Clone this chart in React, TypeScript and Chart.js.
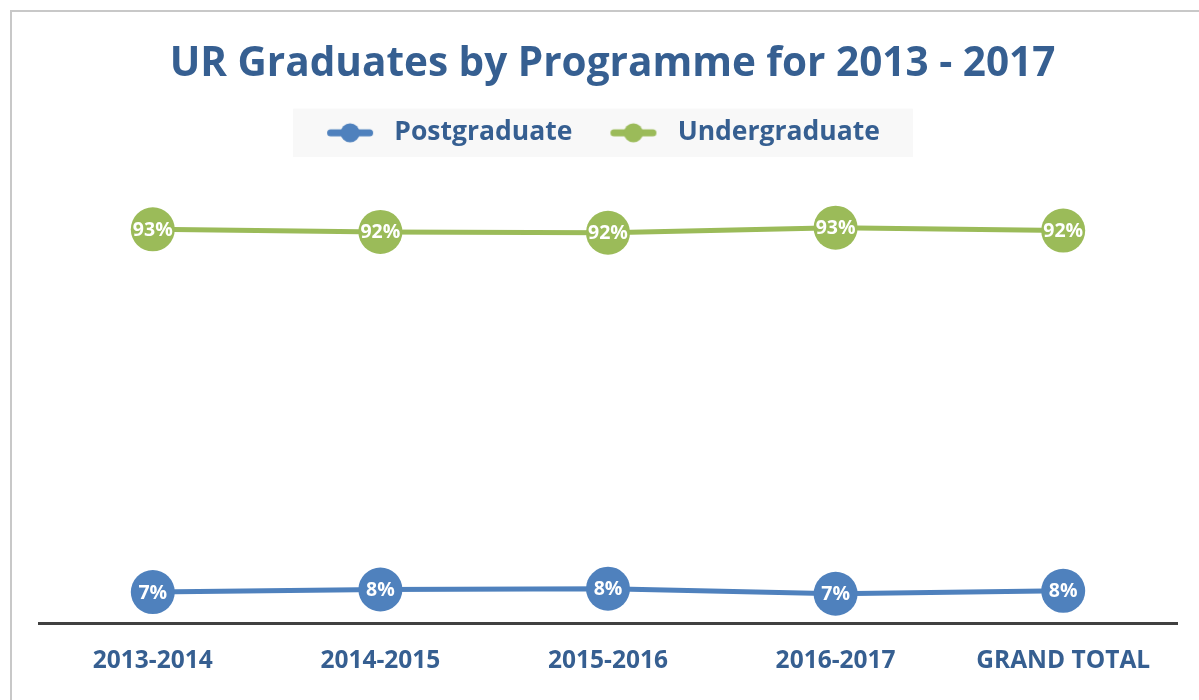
import React, { useEffect, useRef } from "react";
import { Chart, registerables } from "chart.js";

Chart.register(...registerables);

const categories = ["2013-2014", "2014-2015", "2015-2016", "2016-2017", "GRAND TOTAL"];
const postgraduate = [7.4, 8.0, 8.2, 7.0, 7.7];
const undergraduate = [92.6, 92.0, 91.8, 93.0, 92.3];
const seriesNames = ["Postgraduate", "Undergraduate"];
const titleText = "UR Graduates by Programme for 2013 - 2017";

const BLUE = "#4f81bd";
const GREEN = "#9bbb59";
const TEXT = "#365f91";
const FONT = "'Open Sans', 'DejaVu Sans', sans-serif";

const ICON_W = 62;
const ICON_LPAD = 8;
const LEGEND_FONT = 26.5;
const LEGEND_PAD = 30;
const LEGEND_SHIFT = -13;

function makeLegendIcon(color: string): HTMLCanvasElement {
  const c = document.createElement("canvas");
  c.width = ICON_W;
  c.height = 22;
  const ctx = c.getContext("2d")!;
  ctx.strokeStyle = color;
  ctx.lineWidth = 7;
  ctx.lineCap = "round";
  ctx.beginPath();
  ctx.moveTo(ICON_LPAD + 3.5, 11);
  ctx.lineTo(ICON_LPAD + 42.5, 11);
  ctx.stroke();
  ctx.fillStyle = color;
  ctx.beginPath();
  ctx.arc(ICON_LPAD + 23, 11, 9.5, 0, Math.PI * 2);
  ctx.fill();
  return c;
}

const legendShift = {
  id: "legendShift",
  afterLayout(chart: any) {
    const lg = chart.legend;
    if (!lg) return;
    lg.left += LEGEND_SHIFT;
    lg.right += LEGEND_SHIFT;
    if (typeof lg.adjustHitBoxes === "function") lg.adjustHitBoxes();
  },
};

const legendBg = {
  id: "legendBg",
  beforeDraw(chart: any) {
    const lg = chart.legend;
    if (!lg || !lg.lineWidths) return;
    const rowW = lg.lineWidths[0];
    const x0 = (lg.left + LEGEND_PAD + lg.right - rowW) / 2;
    const left = x0 + ICON_LPAD - 34;
    const right = x0 + rowW - LEGEND_PAD + 33;
    const top = lg.top + LEGEND_PAD - 11;
    const ctx = chart.ctx;
    ctx.save();
    ctx.fillStyle = "#f8f8f8";
    ctx.fillRect(left, top, right - left, LEGEND_FONT + 22);
    ctx.restore();
  },
};

const pointLabels = {
  id: "pointLabels",
  afterDatasetsDraw(chart: any) {
    const ctx = chart.ctx;
    ctx.save();
    ctx.fillStyle = "#ffffff";
    ctx.font = `bold 19.5px ${FONT}`;
    ctx.textAlign = "center";
    ctx.textBaseline = "middle";
    chart.data.datasets.forEach((ds: any, i: number) => {
      const meta = chart.getDatasetMeta(i);
      meta.data.forEach((pt: any, j: number) => {
        ctx.fillText(Math.round(ds.data[j]) + "%", pt.x, pt.y + 1);
      });
    });
    ctx.restore();
  },
};

export default function App() {
  const ref = useRef<HTMLCanvasElement | null>(null);

  useEffect(() => {
    if (!ref.current) return;
    const chart = new Chart(ref.current, {
      type: "line",
      data: {
        labels: categories,
        datasets: [
          {
            label: seriesNames[0],
            data: postgraduate,
            borderColor: BLUE,
            backgroundColor: BLUE,
            borderWidth: 5,
            pointRadius: 22,
            pointHoverRadius: 22,
            pointBorderWidth: 0,
          },
          {
            label: seriesNames[1],
            data: undergraduate,
            borderColor: GREEN,
            backgroundColor: GREEN,
            borderWidth: 5,
            pointRadius: 22,
            pointHoverRadius: 22,
            pointBorderWidth: 0,
          },
        ],
      },
      options: {
        animation: false,
        responsive: true,
        maintainAspectRatio: false,
        layout: { padding: { left: 27, right: 13, top: 0, bottom: 9 } },
        elements: { point: { pointStyle: "circle" } },
        plugins: {
          title: {
            display: true,
            text: titleText,
            color: TEXT,
            font: { family: FONT, size: 40.5, weight: "bold" },
            padding: { top: 28, bottom: 1 },
          },
          legend: {
            display: true,
            position: "top",
            labels: {
              color: TEXT,
              font: { family: FONT, size: LEGEND_FONT, weight: "bold" },
              usePointStyle: true,
              pointStyleWidth: ICON_W,
              padding: LEGEND_PAD,
              generateLabels: (chart: any) =>
                chart.data.datasets.map((ds: any, i: number) => ({
                  text: ds.label,
                  fillStyle: ds.borderColor,
                  strokeStyle: ds.borderColor,
                  lineWidth: 0,
                  hidden: false,
                  datasetIndex: i,
                  pointStyle: makeLegendIcon(ds.borderColor),
                  fontColor: TEXT,
                })),
            },
          },
          tooltip: { enabled: false },
        },
        scales: {
          x: {
            offset: true,
            grid: { display: false },
            border: { display: true, color: "#404040", width: 3 },
            ticks: {
              color: TEXT,
              font: { family: FONT, size: 24.5, weight: "bold" },
              padding: 15,
              maxRotation: 0,
              autoSkip: false,
            },
          },
          y: {
            display: false,
            min: 0,
            max: 109.8,
          },
        },
      },
      plugins: [legendShift, legendBg, pointLabels],
    });
    return () => chart.destroy();
  }, []);

  return (
    <div
      style={{
        position: "fixed",
        left: 10,
        top: 10,
        right: 0,
        bottom: 0,
        borderLeft: "2px solid #c8c8c8",
        borderTop: "2px solid #c8c8c8",
        background: "#ffffff",
      }}
    >
      <canvas ref={ref} style={{ display: "block", width: "100%", height: "100%" }} />
    </div>
  );
}
